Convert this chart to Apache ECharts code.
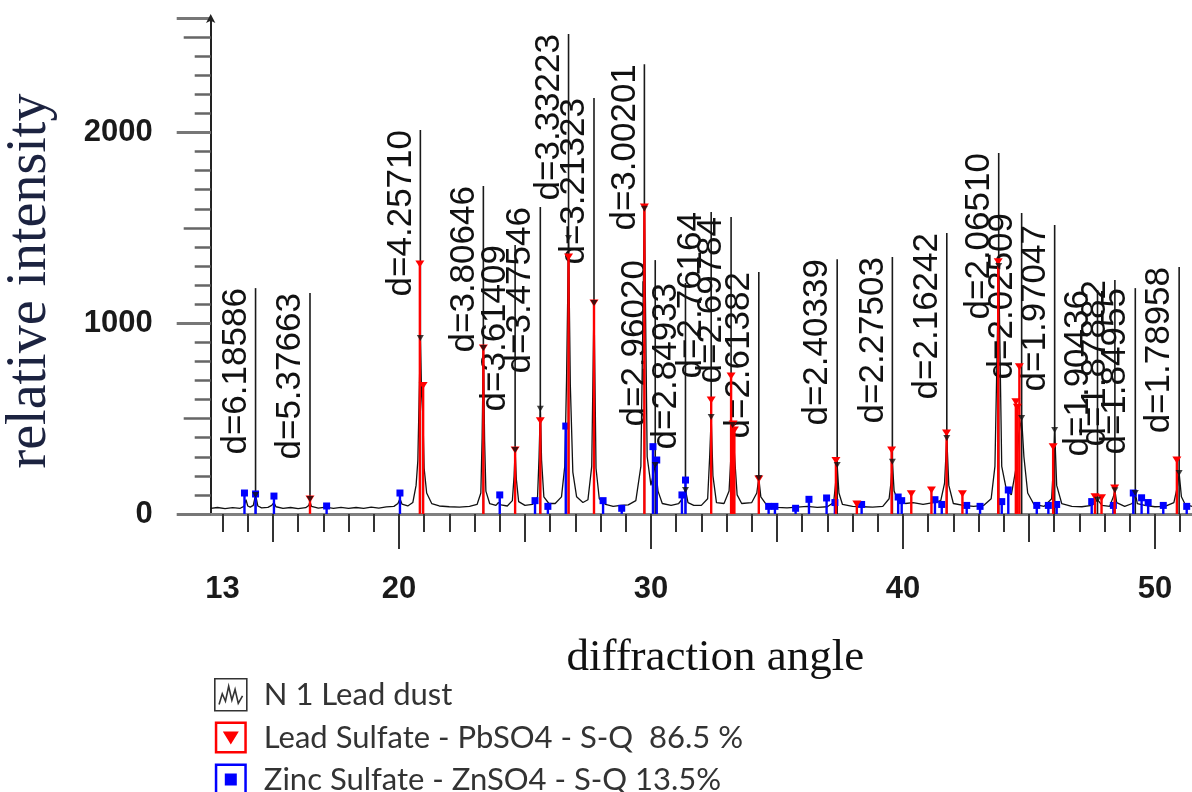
<!DOCTYPE html>
<html>
<head>
<meta charset="utf-8">
<title>XRD pattern – N 1 Lead dust</title>
<script src="https://cdn.jsdelivr.net/npm/echarts@6.0.0/dist/echarts.min.js"></script>
<style>
  html, body { margin: 0; padding: 0; background: #ffffff; }
  #chart { width: 1192px; height: 792px; }
</style>
</head>
<body>
<div id="chart"></div>
<script>
// Measured diffractogram: [2theta (deg), counts]
const profile = [
  [12.53,30],[12.8,34],[13.1,28],[13.4,33],[13.7,30],[13.85,40],[13.93,75],[14.0,42],[14.1,36],[14.22,45],
  [14.31,100],[14.4,42],[14.55,32],[14.8,35],[14.95,45],[15.04,60],[15.12,38],[15.4,30],[15.7,34],[16.0,28],
  [16.3,33],[16.42,45],[16.47,65],[16.53,40],[16.8,31],[17.1,36],[17.4,30],[17.7,35],[18.0,29],[18.3,34],
  [18.6,30],[18.9,36],[19.2,31],[19.5,37],[19.8,40],[19.96,55],[20.04,80],[20.12,52],[20.35,42],[20.55,60],
  [20.68,150],[20.75,280],[20.8,600],[20.85,922],[20.9,620],[20.95,520],[21.0,240],[21.1,110],[21.3,55],[21.6,42],
  [22.0,38],[22.4,36],[22.8,40],[23.1,50],[23.25,110],[23.3,400],[23.35,870],[23.4,380],[23.45,120],[23.6,55],
  [23.85,45],[23.95,60],[24.0,70],[24.05,48],[24.3,42],[24.5,70],[24.57,200],[24.61,330],[24.66,180],[24.75,65],
  [25.0,45],[25.3,50],[25.4,65],[25.5,90],[25.56,300],[25.61,552],[25.66,280],[25.75,90],[25.95,55],[26.2,55],
  [26.45,90],[26.58,250],[26.65,700],[26.73,1447],[26.8,680],[26.9,220],[27.05,90],[27.3,60],[27.5,75],[27.65,250],
  [27.74,1106],[27.82,240],[27.95,80],[28.2,50],[28.5,40],[28.8,45],[29.1,48],[29.4,70],[29.6,250],[29.74,1600],
  [29.85,300],[30.0,150],[30.08,200],[30.17,257],[30.28,120],[30.45,55],[30.8,45],[31.1,55],[31.25,80],[31.37,126],
  [31.47,60],[31.7,45],[32.0,45],[32.25,80],[32.33,300],[32.39,508],[32.46,200],[32.6,60],[32.9,55],[33.1,120],
  [33.24,470],[33.32,300],[33.42,100],[33.6,55],[34.0,60],[34.2,110],[34.28,189],[34.36,90],[34.6,45],[35.0,35],
  [35.4,32],[35.8,36],[36.2,40],[36.27,50],[36.6,35],[37.0,38],[37.25,60],[37.32,150],[37.39,257],[37.46,110],
  [37.6,50],[38.0,40],[38.4,38],[38.8,36],[39.2,40],[39.45,80],[39.52,160],[39.58,274],[39.65,120],[39.8,70],
  [40.1,55],[40.4,60],[40.8,50],[41.2,60],[41.5,70],[41.65,160],[41.74,398],[41.82,150],[42.0,55],[42.4,45],
  [42.8,40],[43.2,45],[43.5,80],[43.65,250],[43.8,1300],[43.92,250],[44.1,130],[44.3,100],[44.5,250],[44.6,420],
  [44.71,503],[44.8,300],[44.95,110],[45.2,50],[45.6,40],[45.9,80],[45.97,250],[46.02,440],[46.1,150],[46.3,55],
  [46.7,40],[47.1,38],[47.5,45],[47.72,75],[47.9,45],[48.2,40],[48.35,90],[48.41,125],[48.48,60],[48.8,40],
  [49.1,55],[49.22,110],[49.3,55],[49.6,45],[50.0,38],[50.4,40],[50.75,60],[50.9,150],[50.96,215],[51.05,90],
  [51.2,50],[51.47,40]
];

// Reference pattern: Lead Sulfate (PbSO4) stick lines [2theta, intensity]
const pbso4Lines = [
  [16.47,79],[20.83,1311],[20.96,673],[23.35,870],[24.61,335],[25.61,489],[26.73,1347],[27.74,1106],
  [29.74,1609],[32.39,597],[33.18,723],[33.26,472],[33.31,440],[34.28,183],[37.34,280],[38.17,53],
  [39.55,335],[40.33,106],[41.13,126],[41.73,424],[42.36,106],[43.78,1322],[44.48,589],[44.54,560],
  [44.62,772],[45.96,353],[47.62,91],[47.88,85],[48.40,136],[50.87,283]
];

// Reference pattern: Zinc Sulfate (ZnSO4) stick lines [2theta, intensity]
const znso4Lines = [
  [13.87,110],[14.31,105],[15.04,94],[17.13,42],[20.04,110],[24.00,100],[25.40,70],[25.91,40],
  [26.62,461],[28.10,70],[28.84,30],[30.08,353],[30.23,283],[31.23,100],[31.37,178],[34.67,40],
  [34.92,40],[35.74,30],[36.27,77],[36.97,84],[37.30,60],[38.36,50],[39.81,89],[39.95,70],
  [41.27,75],[41.54,50],[42.53,45],[43.06,40],[43.92,65],[44.18,126],[45.31,45],[45.77,45],
  [46.10,50],[47.49,65],[48.35,45],[49.14,110],[49.47,85],[49.73,60],[50.33,45],[51.26,40]
];

// Peak-search results: [2theta, intensity at peak top]
const peakTops = [
  [14.31,100],[16.47,79],[20.85,922],[23.35,870],[24.61,335],[25.61,552],[26.73,1447],[27.74,1106],
  [29.74,1600],[30.17,257],[31.37,126],[32.39,508],[33.24,466],[34.28,189],[37.39,257],[39.58,274],
  [41.74,398],[43.80,1300],[44.71,503],[46.02,440],[47.72,75],[48.41,125],[49.22,110],[50.96,215]
];

// d-spacing annotations: 2theta, height of the annotation line, d value
const dTheta = [14.31,16.47,20.85,23.35,24.61,25.61,26.73,27.74,29.74,30.17,31.37,32.39,
                33.18,34.28,37.39,39.58,41.74,43.80,44.71,46.02,47.72,48.41,49.22,50.96];
const dHeight = [1184,1158,2013,1719,1410,1609,2516,2180,2358,1331,1211,1583,
                 1557,1268,1336,1347,1473,1892,1578,1515,1174,1226,1184,1295];
const dText = ['d=6.18586','d=5.37663','d=4.25710','d=3.80646','d=3.61409','d=3.47546','d=3.33223',
               'd=3.21323','d=3.00201','d=2.96020','d=2.84933','d=2.76164','d=2.69784','d=2.61382',
               'd=2.40339','d=2.27503','d=2.16242','d=2.06510','d=2.02509','d=1.97047','d=1.90436',
               'd=1.87882','d=1.84955','d=1.78958'];

const xTickLabels = [13, 20, 30, 40, 50];
const yTickLabels = [0, 1000, 2000];
const seriesNames = ['N 1 Lead dust', 'Lead Sulfate - PbSO4 - S-Q  86.5 %', 'Zinc Sulfate - ZnSO4 - S-Q 13.5%'];

const RED = '#ff0000';
const BLUE = '#0000ff';

const minorX = [];
for (let t = 13; t <= 51; t++) minorX.push(t);

function stickRenderer(color, marker) {
  return function (params, api) {
    const base = api.coord([api.value(0), 0]);
    const top = api.coord([api.value(0), api.value(1)]);
    const children = [{
      type: 'line',
      shape: { x1: base[0], y1: base[1], x2: top[0], y2: top[1] },
      style: { stroke: color, lineWidth: 2.4 }
    }];
    if (marker === 'triangle') {
      children.push({
        type: 'polygon',
        shape: { points: [[top[0] - 4.5, top[1] - 3.5], [top[0] + 4.5, top[1] - 3.5], [top[0], top[1] + 3.5]] },
        style: { fill: color }
      });
    } else {
      children.push({
        type: 'rect',
        shape: { x: top[0] - 3.5, y: top[1] - 3.5, width: 7, height: 7 },
        style: { fill: color }
      });
    }
    return { type: 'group', children: children };
  };
}

function dLabelRenderer(params, api) {
  const base = api.coord([api.value(0), 0]);
  const tip = api.coord([api.value(0), api.value(1)]);
  return {
    type: 'group',
    children: [
      { type: 'line', shape: { x1: base[0], y1: base[1], x2: tip[0], y2: tip[1] },
        style: { stroke: '#1a1a1a', lineWidth: 1.6 } },
      { type: 'text', x: tip[0] - 2, y: tip[1], rotation: Math.PI / 2,
        style: { text: dText[params.dataIndex], fontSize: 35, fontFamily: 'Liberation Sans',
                 fill: '#111111', align: 'right', verticalAlign: 'bottom' } }
    ]
  };
}

const ring = 'M0,0 L32,0 L32,32 L0,32 Z M2.5,2.5 L2.5,29.5 L29.5,29.5 L29.5,2.5 Z ';
const plainNumber = v => String(v);

const chart = echarts.init(document.getElementById('chart'), null, { renderer: 'canvas' });
chart.setOption({
  animation: false,
  backgroundColor: '#ffffff',
  grid: { left: 210.7, right: 0, top: 18, bottom: 278, containLabel: false, outerBoundsMode: 'none' },
  legend: {
    orient: 'vertical', left: 214, top: 678, height: 140, padding: 0,
    itemWidth: 32, itemHeight: 32, itemGap: 10,
    selectedMode: false,
    textStyle: { fontFamily: 'Lato', fontSize: 31, color: '#333333', padding: [0, 0, 0, 12] },
    data: [
      { name: seriesNames[0],
        icon: 'path://M1,1 L31,1 L31,31 L1,31 Z M5,25 L8,15 L11,22 L14,8 L17,21 L20,11 L23,24 L27,17',
        itemStyle: { color: 'rgba(0,0,0,0)', borderColor: '#333333', borderWidth: 1.6 } },
      { name: seriesNames[1], icon: 'path://' + ring + 'M8,10 L24,10 L16,23 Z' },
      { name: seriesNames[2], icon: 'path://' + ring + 'M10,10 L22,10 L22,22 L10,22 Z' }
    ]
  },
  xAxis: [
    {
      type: 'value', min: 12.53, max: 51.47, position: 'bottom',
      name: 'diffraction angle', nameLocation: 'middle', nameGap: 122,
      nameTextStyle: { fontFamily: 'Liberation Serif', fontSize: 45, color: '#111111', padding: [0, 0, 0, 28] },
      axisLine: { show: true, lineStyle: { color: '#808080', width: 3 } },
      axisTick: { show: true, customValues: minorX, length: 18, lineStyle: { color: '#333333', width: 2 } },
      axisLabel: { customValues: xTickLabels, formatter: plainNumber, margin: 60,
                   fontFamily: 'Liberation Sans', fontSize: 31, fontWeight: 'bold', color: '#1a1a1a' },
      splitLine: { show: false }
    },
    {
      type: 'value', min: 12.53, max: 51.47, position: 'bottom',
      axisLine: { show: false },
      axisTick: { show: true, customValues: [15, 25, 35, 45], length: 28, lineStyle: { color: '#333333', width: 2 } },
      axisLabel: { show: false }, splitLine: { show: false }
    },
    {
      type: 'value', min: 12.53, max: 51.47, position: 'bottom',
      axisLine: { show: false },
      axisTick: { show: true, customValues: [20, 30, 40, 50], length: 35, lineStyle: { color: '#333333', width: 2 } },
      axisLabel: { show: false }, splitLine: { show: false }
    }
  ],
  yAxis: [
    {
      type: 'value', min: 0, max: 2600, interval: 100, position: 'left',
      name: 'relative intensity', nameLocation: 'middle', nameGap: 152, nameRotate: 90,
      nameTextStyle: { fontFamily: 'Liberation Serif', fontSize: 56, color: '#1c2340', padding: [0, 30, 0, 0] },
      axisLine: { show: true, symbol: ['none', 'arrow'], symbolSize: [7, 9], symbolOffset: [0, 4],
                  lineStyle: { color: '#222222', width: 2 } },
      axisTick: { show: true, length: 16, lineStyle: { color: '#666666', width: 2.5 } },
      axisLabel: { customValues: yTickLabels, formatter: plainNumber, margin: 58,
                   fontFamily: 'Liberation Sans', fontSize: 31, fontWeight: 'bold', color: '#1a1a1a' },
      splitLine: { show: false }
    },
    {
      type: 'value', min: 0, max: 2600, interval: 500, position: 'left',
      axisLine: { show: false },
      axisTick: { show: true, length: 27, lineStyle: { color: '#666666', width: 2.5 } },
      axisLabel: { show: false }, splitLine: { show: false }
    },
    {
      type: 'value', min: 0, max: 2600, interval: 1000, position: 'left',
      axisLine: { show: false },
      axisTick: { show: true, length: 34, lineStyle: { color: '#777777', width: 3 } },
      axisLabel: { show: false }, splitLine: { show: false }
    }
  ],
  series: [
    {
      name: 'd-spacing', type: 'custom', z: 1, silent: true,
      data: dTheta.map((t, i) => [t, dHeight[i]]),
      renderItem: dLabelRenderer
    },
    {
      name: seriesNames[0], type: 'line', z: 2, data: profile,
      showSymbol: false, symbol: 'none',
      lineStyle: { color: '#111111', width: 1.3 }, itemStyle: { color: '#111111' }
    },
    {
      name: seriesNames[2], type: 'custom', z: 3, data: znso4Lines,
      itemStyle: { color: BLUE }, renderItem: stickRenderer(BLUE, 'square')
    },
    {
      name: seriesNames[1], type: 'custom', z: 4, data: pbso4Lines,
      itemStyle: { color: RED }, renderItem: stickRenderer(RED, 'triangle')
    },
    {
      name: 'peaks', type: 'scatter', z: 5, data: peakTops,
      symbol: 'triangle', symbolRotate: 180, symbolSize: [7, 6],
      itemStyle: { color: '#111111' }, silent: true
    }
  ]
});
</script>
</body>
</html>
